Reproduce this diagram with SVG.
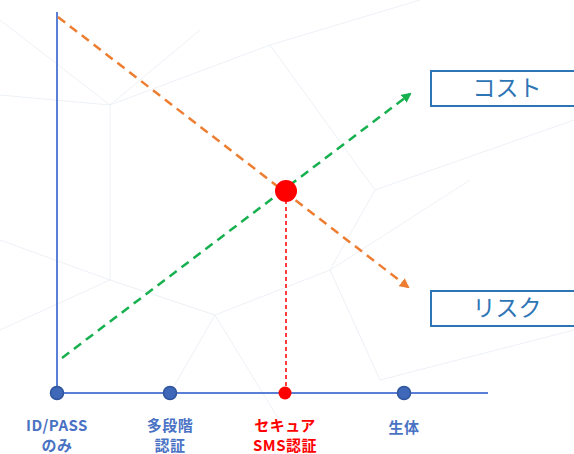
<svg xmlns="http://www.w3.org/2000/svg" width="574" height="454" viewBox="0 0 574 454">
<style>
.bg{stroke:#edf1f6;stroke-width:1;fill:none}
.axis{stroke:#5a7fd6;stroke-width:2;fill:none}
.dot{fill:#3f68b8;stroke:#2f559e;stroke-width:1.5}
.lbl{font-family:"Noto Sans CJK JP","Noto Sans",sans-serif;font-weight:bold;font-size:15px;fill:#4a72c4;text-anchor:middle;letter-spacing:0.5px}
.red{fill:#ff0000}
.box{fill:#ffffff;stroke:#2e75b6;stroke-width:2}
.boxt{font-family:"Noto Sans CJK JP","Noto Sans",sans-serif;font-size:23px;fill:#2e75b6;text-anchor:middle}
</style>
<defs>
<marker id="ao" viewBox="0 0 10 10" refX="8" refY="5" markerWidth="4" markerHeight="4" orient="auto"><path d="M0,0 L10,5 L0,10 z" fill="#ed7d31"/></marker>
<marker id="ag" viewBox="0 0 10 10" refX="8" refY="5" markerWidth="4" markerHeight="4" orient="auto"><path d="M0,0 L10,5 L0,10 z" fill="#17b04f"/></marker>
</defs>
<rect width="574" height="454" fill="#ffffff"/>
<g id="background">
<path class="bg" d="M0,95 L110,105 L200,30 M110,105 L270,45 L420,0 M0,240 L110,280 L215,315 L330,270 L470,180 M110,105 L110,280 M215,315 L170,393 M330,270 L380,380 L574,330 M270,45 L375,190 L574,120 M110,280 L0,330 M215,315 L300,454 M375,190 L330,270 M0,20 L110,105"/>
</g>
<g id="axes">
<line class="axis" x1="57" y1="12" x2="57" y2="393"/>
<line class="axis" x1="57" y1="393" x2="488" y2="393"/>
</g>
<g id="connectors">
<line x1="58" y1="17" x2="408" y2="287" stroke="#ed7d31" stroke-width="2.5" stroke-dasharray="9,6" marker-end="url(#ao)"/>
<line x1="62" y1="358" x2="410" y2="94" stroke="#17b04f" stroke-width="2.5" stroke-dasharray="9,6" marker-end="url(#ag)"/>
<line x1="286" y1="200" x2="286" y2="390" stroke="#ff0000" stroke-width="1.5" stroke-dasharray="4,3"/>
</g>
<g id="point-optimal"><circle cx="286" cy="191" r="11" fill="#ff0000"/></g>
<g id="box-cost"><rect class="box" x="431" y="71" width="152" height="35"/><text class="boxt" x="507" y="96">コスト</text></g>
<g id="box-risk"><rect class="box" x="431" y="291" width="152" height="35"/><text class="boxt" x="507" y="316">リスク</text></g>
<g id="node-idpass"><circle class="dot" cx="57" cy="393" r="6.5"/><text class="lbl" x="57" y="431">ID/PASS</text><text class="lbl" x="57" y="451">のみ</text></g>
<g id="node-multi"><circle class="dot" cx="170" cy="393" r="6.5"/><text class="lbl" x="170" y="431">多段階</text><text class="lbl" x="170" y="451">認証</text></g>
<g id="node-sms"><circle cx="285" cy="393" r="6.5" fill="#ff0000"/><text class="lbl red" x="285" y="431">セキュア</text><text class="lbl red" x="285" y="451">SMS認証</text></g>
<g id="node-bio"><circle class="dot" cx="404" cy="393" r="6.5"/><text class="lbl" x="404" y="433">生体</text></g>
</svg>
